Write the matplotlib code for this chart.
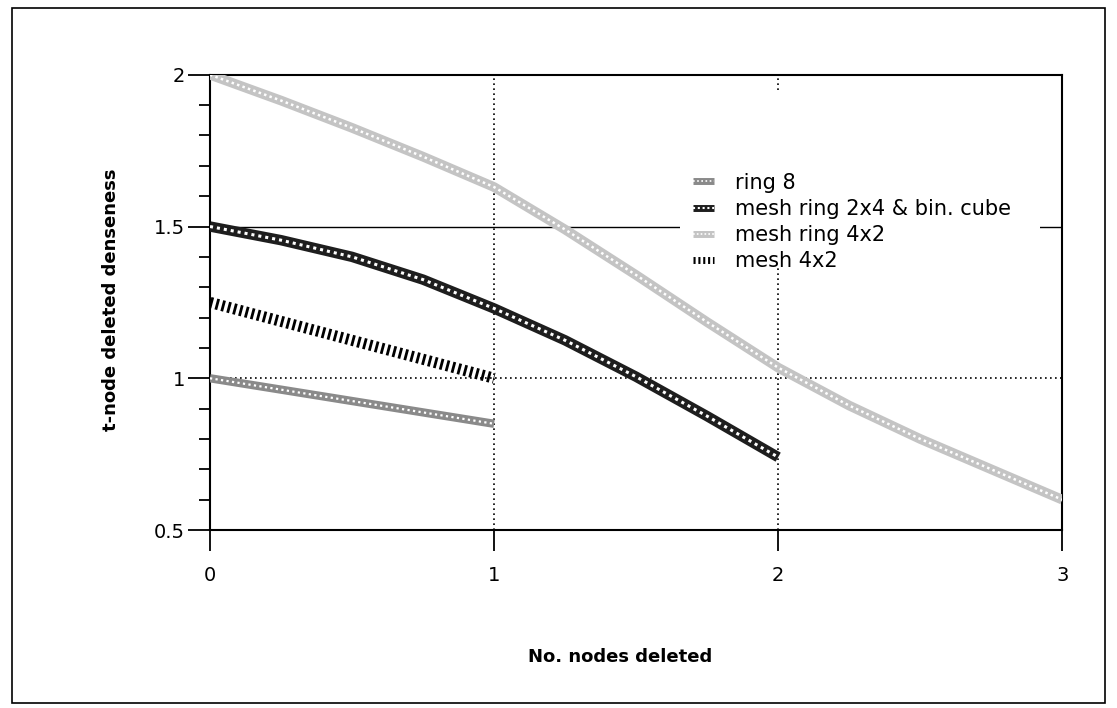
import numpy as np
import matplotlib
matplotlib.use('Agg')
import matplotlib.pyplot as plt
from matplotlib.lines import Line2D
from matplotlib.patches import Rectangle

# values
x_ring8 = [0, 1]
y_ring8 = [1.0, 0.85]

x_meshring24 = [0, 0.25, 0.5, 0.75, 1, 1.25, 1.5, 1.75, 2]
y_meshring24 = [1.5, 1.455, 1.40, 1.325, 1.23, 1.125, 1.005, 0.875, 0.74]

x_meshring42 = [0, 0.25, 0.5, 0.75, 1, 1.25, 1.5, 1.75, 2, 2.25, 2.5, 2.75, 3]
y_meshring42 = [2.0, 1.915, 1.825, 1.73, 1.63, 1.49, 1.34, 1.185, 1.035, 0.91, 0.80, 0.70, 0.60]

x_mesh42 = [0, 1]
y_mesh42 = [1.25, 1.0]

labels = ['ring 8', 'mesh ring 2x4 & bin. cube', 'mesh ring 4x2', 'mesh 4x2']
x_ticks = [0, 1, 2, 3]
y_ticks = [0.5, 1, 1.5, 2]
y_ticklabels = ['0.5', '1', '1.5', '2']

plt.rcParams['font.family'] = ['DejaVu Sans']

fig = plt.figure(figsize=(11.17, 7.08), dpi=100)
ax = fig.add_axes([0.188, 0.2514, 0.763, 0.643])

# outer frame around the whole picture
fig.patches.append(Rectangle((0.011, 0.007), 0.978, 0.982, transform=fig.transFigure,
                             fill=False, edgecolor='black', linewidth=1.2))

# grid lines
ax.axvline(1, color='black', linestyle=(0, (1, 2)), linewidth=1.2, zorder=1)
ax.axvline(2, color='black', linestyle=(0, (1, 2)), linewidth=1.2, zorder=1)
ax.axhline(1, color='black', linestyle=(0, (1, 2)), linewidth=1.2, zorder=1)
ax.axhline(1.5, color='black', linestyle='-', linewidth=1.0, zorder=1)

# white area behind the legend hides the grid there
ax.add_patch(Rectangle((0.552, 0.576), 0.422, 0.39, transform=ax.transAxes,
                       facecolor='white', edgecolor='none', zorder=2))

# textured thick lines: a base stroke with a dotted overlay
ax.plot(x_ring8, y_ring8, color='#8a8a8a', linewidth=6, solid_capstyle='butt', zorder=3)
ax.plot(x_ring8, y_ring8, color='white', linewidth=1.6, linestyle=(0, (1, 1.5)), zorder=4)

ax.plot(x_meshring24, y_meshring24, color='#1e1e1e', linewidth=7.5, solid_capstyle='butt', zorder=3)
ax.plot(x_meshring24, y_meshring24, color='white', linewidth=2.2, linestyle=(0, (1, 1.3)), zorder=4)

ax.plot(x_meshring42, y_meshring42, color='#c4c4c4', linewidth=7, solid_capstyle='butt', zorder=3)
ax.plot(x_meshring42, y_meshring42, color='white', linewidth=1.8, linestyle=(0, (1, 1.3)), zorder=4)

ax.plot(x_mesh42, y_mesh42, color='black', linewidth=8, linestyle=(0, (0.25, 0.3)),
        dash_capstyle='butt', zorder=3)

# legend proxies
h1 = (Line2D([], [], color='#8a8a8a', linewidth=5, solid_capstyle='butt'),
      Line2D([], [], color='white', linewidth=1.2, linestyle=(0, (1, 1.5))))
h2 = (Line2D([], [], color='#1e1e1e', linewidth=5, solid_capstyle='butt'),
      Line2D([], [], color='white', linewidth=1.5, linestyle=(0, (1, 1.3))))
h3 = (Line2D([], [], color='#c4c4c4', linewidth=5, solid_capstyle='butt'),
      Line2D([], [], color='white', linewidth=1.2, linestyle=(0, (1, 1.3))))
h4 = Line2D([], [], color='black', linewidth=5, linestyle=(0, (0.3, 0.4)), dash_capstyle='butt')
leg = ax.legend([h1, h2, h3, h4], labels, loc='upper left', bbox_to_anchor=(0.567, 0.785),
                frameon=False, fontsize=15, handlelength=1.0, handletextpad=1.0,
                labelspacing=0.3, borderpad=0, borderaxespad=0)
leg.set_zorder(5)

ax.set_xlim(0, 3)
ax.set_ylim(0.5, 2)
ax.set_xticks(x_ticks)
ax.set_xticklabels([str(v) for v in x_ticks])
ax.set_yticks(y_ticks)
ax.set_yticklabels(y_ticklabels)
ax.set_yticks(np.arange(0.6, 2.0, 0.1), minor=True)
ax.tick_params(axis='y', which='major', direction='out', length=16, width=1.3, labelsize=14, pad=2)
ax.tick_params(axis='y', which='minor', direction='out', length=8, width=1.3)
ax.tick_params(axis='x', which='major', direction='out', length=15, width=1.3, labelsize=14, pad=11)
for s in ax.spines.values():
    s.set_linewidth(1.5)

ax.set_xlabel('No. nodes deleted', fontsize=13, fontweight='bold')
ax.set_ylabel('t-node deleted denseness', fontsize=13, fontweight='bold')
ax.xaxis.set_label_coords(0.481, -0.259)
ax.yaxis.set_label_coords(-0.106, 0.505)

plt.savefig('out.png', dpi=100)
